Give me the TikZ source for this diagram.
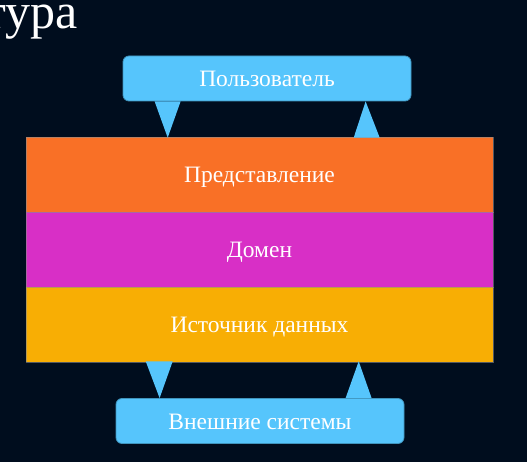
\documentclass[tikz,border=0pt]{standalone}
\usepackage{fontspec}
\setmainfont{Liberation Serif}
\usetikzlibrary{calc}

\definecolor{bgnavy}{RGB}{0,13,30}
\definecolor{userblue}{RGB}{86,197,252}
\definecolor{presorange}{RGB}{249,112,38}
\definecolor{domainpink}{RGB}{216,47,198}
\definecolor{srcyellow}{RGB}{248,174,4}

\begin{document}
\begin{tikzpicture}[x=1pt,y=-1pt]
    \fill[bgnavy] (0,0) rectangle (527,462);
    \useasboundingbox (0,0) rectangle (527,462);

    \tikzset{actorbox/.style={fill=userblue,draw=userblue!75!black,line width=.8pt,rounded corners=6pt,
            minimum width=288pt,minimum height=45pt,inner sep=0pt,text height=16.5pt,text depth=0pt,
            text=white,font=\fontsize{23.5}{27}\selectfont},
        layerbox/.style={draw=black!45,line width=.6pt,draw opacity=.6,minimum width=467pt,minimum height=75pt,
            inner sep=0pt,text height=16.5pt,text depth=0pt,text=white,font=\fontsize{23.5}{27}\selectfont},
        flowtri/.style={fill=userblue}}

    \node[anchor=base east,inner sep=0pt,text=white,font=\fontsize{50}{56}\selectfont] (title) at (78,29) {тура};

    \node[actorbox] (user) at (267,78.5) {Пользователь};

    \node[layerbox,fill=presorange] (pres) at (259.5,174.5) {Представление};
    \node[layerbox,fill=domainpink] (domain) at (259.5,249.5) {Домен};
    \node[layerbox,fill=srcyellow] (src) at (259.5,324.5) {Источник данных};

    \node[actorbox] (ext) at (260,421) {Внешние системы};

    % user <-> presentation
    \fill[flowtri] ($(user.south west)+(32,0)$) -- ($(user.south west)+(58,0)$) -- ($(pres.north west)+(142,1)$) -- cycle;
    \fill[flowtri] ($(pres.north west)+(328,1)$) -- ($(pres.north west)+(354,1)$) -- ($(user.south west)+(243,0)$) -- cycle;

    % data source <-> external
    \fill[flowtri] ($(src.south west)+(120,-1)$) -- ($(src.south west)+(147,-1)$) -- ($(ext.north west)+(44,0)$) -- cycle;
    \fill[flowtri] ($(ext.north west)+(230,0)$) -- ($(ext.north west)+(256,0)$) -- ($(src.south west)+(333,-1)$) -- cycle;
\end{tikzpicture}
\end{document}
